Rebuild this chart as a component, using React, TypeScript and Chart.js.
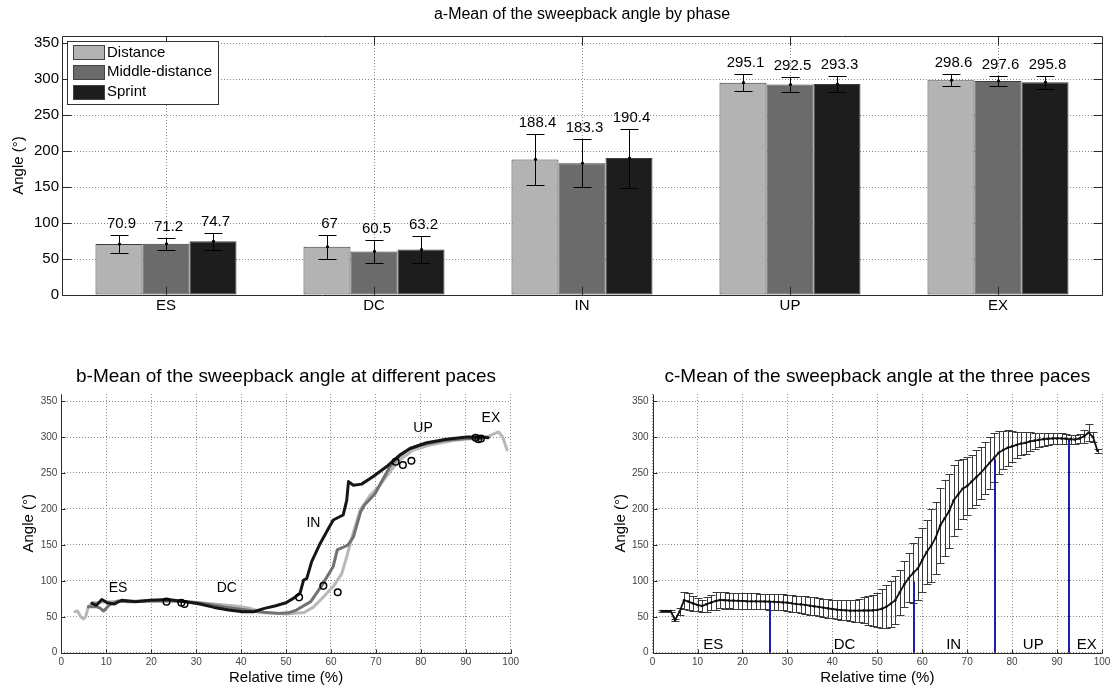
import React, { useEffect, useRef } from "react";
import { Chart, registerables } from "chart.js";

Chart.register(...registerables);

const FONT = "'Liberation Sans', Arial, Helvetica, sans-serif";
Chart.defaults.font.family = FONT;

// ---------------- Panel a: mean angle by phase ----------------
const phases = ["ES", "DC", "IN", "UP", "EX"];
const paces = ["Distance", "Middle-distance", "Sprint"];
const distanceMean = [70.9, 67, 188.4, 295.1, 298.6];
const middleMean = [71.2, 60.5, 183.3, 292.5, 297.6];
const sprintMean = [74.7, 63.2, 190.4, 293.3, 295.8];
const distanceSD = [12, 17, 36, 11.7, 8];
const middleSD = [8.5, 15.5, 33, 11, 7];
const sprintSD = [11.5, 18.5, 41, 11.5, 9];
const paceColors = ["#b3b3b3", "#6b6b6b", "#1d1d1d"];

// ---------------- Panel b: curves at different paces ----------------
const distanceTime = [3.0, 3.6, 4.3, 4.9, 5.4, 6.0, 7.0, 8.5, 10, 12, 15, 20, 25, 30, 34, 38.8, 42, 45.2, 48, 50, 54, 56, 57.6, 60.5, 62.4, 63.5, 64.7, 66.5, 68.7, 70.9, 73.1, 75.3, 78.3, 82, 87.2, 91.7, 95, 96.5, 97.3, 98.2, 99.2];
const distanceAngle = [57, 58, 50, 47, 50, 64, 70, 70, 71, 71, 72, 72, 72, 70, 67.7, 65, 61.7, 55.6, 55, 54, 56, 63, 73, 92, 110, 133.5, 161, 198.5, 219, 233, 251.7, 268, 282, 289, 295, 298, 301, 305, 307, 300, 282];
const middleTime = [6.0, 7.8, 8.6, 9.4, 10.6, 12.6, 15, 20, 25, 30, 34, 37, 40.4, 43.6, 48.3, 50.5, 52.3, 55.5, 58, 60.5, 61.4, 62.5, 63.8, 65, 66.6, 67.4, 69.8, 71, 73.1, 75.3, 77.6, 80, 85, 90, 93.5];
const middleAngle = [64, 64, 62, 58, 66, 72, 71, 72, 72, 70, 66, 63, 60, 57, 54.7, 55.5, 59.3, 71, 94, 120, 143, 146, 150, 161, 196, 205, 221, 235, 258.7, 273.6, 284, 289, 295, 298, 298];
const sprintTime = [6.8, 7.8, 9, 10.2, 11.8, 13.4, 16.5, 19.7, 23.7, 27.7, 30.8, 34, 37.2, 40.4, 42.8, 45.2, 47.5, 50, 51.6, 53.1, 53.9, 54.6, 55.7, 57.6, 59, 60.5, 62.7, 63.5, 63.9, 65, 66.8, 69.4, 72.4, 75.3, 77.6, 81.3, 85.7, 90.2, 93, 95];
const sprintAngle = [68.6, 66, 74, 69.5, 67.7, 73, 71, 73, 74, 71, 67.7, 63, 59.3, 57, 57, 61.7, 65, 69.5, 75.6, 82.6, 101, 103, 126.6, 152, 168, 184.6, 191.5, 212, 238, 233, 234.5, 245, 259, 275, 284, 292, 297, 300, 300, 299];
const phaseChangeTime = [23.4, 26.7, 27.4, 52.9, 58.3, 61.5, 74.4, 76.0, 77.9, 92.2, 92.8, 93.4];
const phaseChangeAngle = [71, 69.5, 67.7, 77, 93, 84, 265.6, 261, 267, 299, 297, 298];
const labelTimeB = [12.6, 36.8, 56.1, 80.5, 95.6];
const labelAngleB = [89.5, 89.5, 180, 313, 326];

// ---------------- Panel c: mean of the three paces ----------------
const meanTime = [2, 3, 4, 5, 6, 7, 8, 9, 10, 11, 12, 13, 14, 15, 16, 17, 18, 19, 20, 21, 22, 23, 24, 25, 26, 27, 28, 29, 30, 31, 32, 33, 34, 35, 36, 37, 38, 39, 40, 41, 42, 43, 44, 45, 46, 47, 48, 49, 50, 51, 52, 53, 54, 55, 56, 57, 58, 59, 60, 61, 62, 63, 64, 65, 66, 67, 68, 69, 70, 71, 72, 73, 74, 75, 76, 77, 78, 79, 80, 81, 82, 83, 84, 85, 86, 87, 88, 89, 90, 91, 92, 93, 94, 95, 96, 97, 98, 99];
const meanAngle = [58, 58, 58, 45.5, 57, 73, 71, 68.6, 66.4, 65, 67.5, 69.6, 71.9, 73.3, 73, 72.6, 72.4, 72.2, 72, 71.6, 71.5, 71.4, 71.3, 71.2, 71, 70.8, 70.4, 70, 69.6, 68.7, 67.7, 67.2, 66.4, 65.4, 64.5, 63.6, 62.6, 61.7, 60.8, 59.8, 59.4, 58.9, 58.4, 58.4, 58.6, 58.8, 58.7, 58.9, 59.5, 61, 64, 68, 73, 84, 95, 104, 111, 117, 129, 140, 149, 160, 177, 187, 197, 212, 220, 228, 232, 238, 244, 250, 257, 264, 271, 278, 282, 285, 287, 289, 291, 292, 294, 295, 296, 297, 297.5, 298, 298, 298, 297.5, 297, 296.5, 298, 301, 306, 300, 281];
const meanSD = [2, 2, 2, 2, 5, 12, 11.5, 10.5, 9, 9, 10.5, 10.5, 12, 11.5, 12, 11, 11, 11, 11, 11, 11, 11, 11, 11, 11, 11, 11, 11, 11, 11.5, 11.5, 12, 12, 12.5, 12.5, 12.5, 12.5, 13, 13, 13, 13.5, 14, 14.5, 15.5, 16.5, 18, 20, 22, 24, 27, 30, 32, 33, 31, 32, 34, 42, 44, 44, 45, 51, 50, 52, 53, 52, 49, 48, 42, 40, 37, 38, 36.5, 36.5, 36.5, 34, 30, 27, 25, 21.5, 18.5, 16.5, 15.5, 13.5, 11, 10, 9, 8.5, 8, 7.5, 7, 6.5, 6.5, 6.5, 6.5, 9, 12, 7, 3];
const boundaryTime = [26.2, 58.2, 76.3, 92.7];
const boundaryAngle = [71, 99, 269, 297];
const labelTimeC = [13.5, 42.7, 67, 84.7, 96.6];
const labelAngleC = [11, 11, 11, 11, 11];

const angleTicksStep = 50;
const timeTicksStep = 10;

const cr = (v: number) => Math.round(v) + 0.5;

function makeFrame(cfg: { box: boolean; tickLen: number; title: string; titleY: number; titleSize: number }) {
  return {
    id: "matlabFrame",
    afterDraw(chart: any) {
      const { ctx, chartArea: a, scales } = chart;
      const xs = scales.x;
      const ys = scales.y;
      const L = cr(a.left), R = cr(a.right), T = cr(a.top), B = cr(a.bottom);
      const tl = cfg.tickLen;
      ctx.save();
      ctx.strokeStyle = "#2a2a2a";
      ctx.lineWidth = 1;
      ctx.beginPath();
      xs.ticks.forEach((_: any, i: number) => {
        const p = cr(xs.getPixelForTick(i));
        ctx.moveTo(p, B);
        ctx.lineTo(p, B - tl);
        if (cfg.box) {
          ctx.moveTo(p, T);
          ctx.lineTo(p, T + tl);
        }
      });
      ys.ticks.forEach((_: any, i: number) => {
        const p = cr(ys.getPixelForTick(i));
        ctx.moveTo(L, p);
        ctx.lineTo(L + tl, p);
        if (cfg.box) {
          ctx.moveTo(R, p);
          ctx.lineTo(R - tl, p);
        }
      });
      ctx.stroke();
      ctx.beginPath();
      if (cfg.box) {
        ctx.rect(L, T, R - L, B - T);
      } else {
        ctx.moveTo(L, T);
        ctx.lineTo(L, B);
        ctx.lineTo(R, B);
      }
      ctx.stroke();
      ctx.fillStyle = "#000";
      ctx.font = `${cfg.titleSize}px ${FONT}`;
      ctx.textAlign = "center";
      ctx.textBaseline = "middle";
      ctx.fillText(cfg.title, (a.left + a.right) / 2, cfg.titleY);
      ctx.restore();
    },
  };
}

const barErrorPlugin = {
  id: "barErrors",
  afterDatasetsDraw(chart: any) {
    const { ctx } = chart;
    const ys = chart.scales.y;
    ctx.save();
    chart.data.datasets.forEach((ds: any, i: number) => {
      const meta = chart.getDatasetMeta(i);
      meta.data.forEach((el: any, j: number) => {
        const v = ds.data[j];
        const e = ds.errors[j];
        const x = cr(el.x);
        const yt = cr(ys.getPixelForValue(v + e));
        const yb = cr(ys.getPixelForValue(v - e));
        const ym = ys.getPixelForValue(v);
        ctx.strokeStyle = "#000";
        ctx.lineWidth = 1;
        ctx.beginPath();
        ctx.moveTo(x, yt);
        ctx.lineTo(x, yb);
        ctx.moveTo(x - 9, yt);
        ctx.lineTo(x + 9, yt);
        ctx.moveTo(x - 9, yb);
        ctx.lineTo(x + 9, yb);
        ctx.stroke();
        ctx.fillStyle = "#000";
        ctx.beginPath();
        ctx.arc(x, ym, 1.6, 0, Math.PI * 2);
        ctx.fill();
        ctx.font = `15px ${FONT}`;
        ctx.textAlign = "center";
        ctx.textBaseline = "alphabetic";
        ctx.fillText(String(v), x + 2, yt - 7.5);
      });
    });
    ctx.restore();
  },
};

const barLegendPlugin = {
  id: "barLegend",
  afterDraw(chart: any) {
    const { ctx, chartArea: a } = chart;
    const x0 = Math.round(a.left) + 5;
    const y0 = Math.round(a.top) + 5;
    ctx.save();
    ctx.fillStyle = "#fff";
    ctx.strokeStyle = "#333";
    ctx.lineWidth = 1;
    ctx.fillRect(x0, y0, 151, 63);
    ctx.strokeRect(x0 + 0.5, y0 + 0.5, 151, 63);
    chart.data.datasets.forEach((ds: any, i: number) => {
      const cy = y0 + 11 + i * 19.8;
      ctx.fillStyle = ds.backgroundColor;
      ctx.fillRect(x0 + 6, Math.round(cy - 7), 31, 14);
      ctx.strokeStyle = "#444";
      ctx.strokeRect(x0 + 6.5, Math.round(cy - 7) + 0.5, 31, 14);
      ctx.fillStyle = "#000";
      ctx.font = `15px ${FONT}`;
      ctx.textAlign = "left";
      ctx.textBaseline = "middle";
      ctx.fillText(ds.label, x0 + 40, cy + 0.5);
    });
    ctx.restore();
  },
};

function makeTextPlugin(texts: string[], xs: number[], ys: number[], size: number) {
  return {
    id: "phaseTexts",
    afterDatasetsDraw(chart: any) {
      const { ctx, scales } = chart;
      ctx.save();
      ctx.fillStyle = "#000";
      ctx.font = `${size}px ${FONT}`;
      ctx.textAlign = "center";
      ctx.textBaseline = "middle";
      texts.forEach((t, i) => {
        ctx.fillText(t, scales.x.getPixelForValue(xs[i]), scales.y.getPixelForValue(ys[i]));
      });
      ctx.restore();
    },
  };
}

const meanErrorPlugin = {
  id: "meanErrors",
  beforeDatasetsDraw(chart: any) {
    const { ctx, scales } = chart;
    ctx.save();
    ctx.lineWidth = 1;
    ctx.strokeStyle = "#3a3a3a";
    ctx.beginPath();
    meanTime.forEach((t, i) => {
      const x = cr(scales.x.getPixelForValue(t));
      const yt = cr(scales.y.getPixelForValue(meanAngle[i] + meanSD[i]));
      const yb = cr(scales.y.getPixelForValue(meanAngle[i] - meanSD[i]));
      ctx.moveTo(x, yt);
      ctx.lineTo(x, yb);
      ctx.moveTo(x - 4, yt);
      ctx.lineTo(x + 4, yt);
      ctx.moveTo(x - 4, yb);
      ctx.lineTo(x + 4, yb);
    });
    ctx.stroke();
    ctx.strokeStyle = "#1f1fa3";
    ctx.lineWidth = 2;
    ctx.beginPath();
    boundaryTime.forEach((t, i) => {
      const x = Math.round(scales.x.getPixelForValue(t));
      ctx.moveTo(x, scales.y.getPixelForValue(0));
      ctx.lineTo(x, scales.y.getPixelForValue(boundaryAngle[i]));
    });
    ctx.stroke();
    ctx.restore();
  },
};

const gridStyle = { color: "#8a8a8a", lineWidth: 1, drawTicks: false };
const borderStyle = { display: false, dash: [1, 2] };

function fixedY(width: number) {
  return (s: any) => {
    s.width = width;
    s.paddingTop = 0;
    s.paddingBottom = 0;
    s.paddingLeft = 0;
    s.paddingRight = 0;
  };
}
function fixedX(height: number) {
  return (s: any) => {
    s.height = height;
    s.paddingTop = 0;
    s.paddingBottom = 0;
    s.paddingLeft = 0;
    s.paddingRight = 0;
  };
}

function lineScales(yWidth: number) {
  return {
    x: {
      type: "linear",
      min: 0,
      max: 100,
      ticks: { stepSize: timeTicksStep, includeBounds: false, padding: 4, color: "#444", font: { size: 10 }, maxRotation: 0, autoSkip: false },
      grid: gridStyle,
      border: borderStyle,
      title: { display: true, text: "Relative time (%)", color: "#000", font: { size: 15 }, padding: { top: 0, bottom: 3 } },
      afterFit: fixedX(37.3),
    },
    y: {
      type: "linear",
      min: 0,
      max: 360,
      ticks: { stepSize: angleTicksStep, includeBounds: false, padding: 4, color: "#444", font: { size: 10 } },
      grid: gridStyle,
      border: borderStyle,
      title: { display: true, text: "Angle (°)", color: "#000", font: { size: 15 }, padding: { top: 0, bottom: 0 } },
      afterFit: fixedY(yWidth),
    },
  };
}

const toPoints = (xs: number[], ys: number[]) => xs.map((x, i) => ({ x, y: ys[i] }));

export default function App() {
  const refA = useRef<HTMLCanvasElement>(null);
  const refB = useRef<HTMLCanvasElement>(null);
  const refC = useRef<HTMLCanvasElement>(null);

  useEffect(() => {
    const charts: Chart[] = [];

    charts.push(
      new Chart(refA.current as HTMLCanvasElement, {
        type: "bar",
        data: {
          labels: phases,
          datasets: [
            { label: paces[0], data: distanceMean, errors: distanceSD, backgroundColor: paceColors[0] } as any,
            { label: paces[1], data: middleMean, errors: middleSD, backgroundColor: paceColors[1] } as any,
            { label: paces[2], data: sprintMean, errors: sprintSD, backgroundColor: paceColors[2] } as any,
          ],
        },
        options: {
          animation: false,
          responsive: false,
          maintainAspectRatio: false,
          devicePixelRatio: 1,
          events: [],
          layout: { padding: { left: 10, right: 10, top: 36, bottom: 0 } },
          datasets: {
            bar: { categoryPercentage: 0.678, barPercentage: 1, borderColor: "#3c3c3c", borderWidth: 1, borderSkipped: false },
          },
          scales: {
            x: {
              ticks: { padding: 2, color: "#000", font: { size: 15 } },
              grid: { ...gridStyle, offset: false },
              border: borderStyle,
              afterFit: fixedX(30),
            },
            y: {
              min: 0,
              max: 360,
              ticks: { stepSize: angleTicksStep, includeBounds: false, padding: 3, color: "#000", font: { size: 15 } },
              grid: gridStyle,
              border: borderStyle,
              title: { display: true, text: "Angle (°)", color: "#000", font: { size: 15 }, padding: { top: 0, bottom: 0 } },
              afterFit: fixedY(52),
            },
          } as any,
          plugins: { legend: { display: false }, tooltip: { enabled: false } },
        },
        plugins: [
          makeFrame({ box: true, tickLen: 9, title: "a-Mean of the sweepback angle by phase", titleY: 15, titleSize: 16 }),
          barErrorPlugin,
          barLegendPlugin,
        ],
      } as any)
    );

    charts.push(
      new Chart(refB.current as HTMLCanvasElement, {
        type: "scatter",
        data: {
          datasets: [
            { label: "Phase changes", data: toPoints(phaseChangeTime, phaseChangeAngle), showLine: false, pointRadius: 3.3, pointBorderWidth: 1.5, pointBorderColor: "#000", pointBackgroundColor: "rgba(0,0,0,0)", order: 0 },
            { label: paces[2], data: toPoints(sprintTime, sprintAngle), showLine: true, borderColor: "#161616", borderWidth: 3, pointRadius: 0, order: 1 },
            { label: paces[1], data: toPoints(middleTime, middleAngle), showLine: true, borderColor: "#727272", borderWidth: 3, pointRadius: 0, order: 2 },
            { label: paces[0], data: toPoints(distanceTime, distanceAngle), showLine: true, borderColor: "#b8b8b8", borderWidth: 3, pointRadius: 0, order: 3 },
          ],
        },
        options: {
          animation: false,
          responsive: false,
          maintainAspectRatio: false,
          devicePixelRatio: 1,
          events: [],
          elements: { line: { tension: 0, borderJoinStyle: "round", borderCapStyle: "round" } },
          layout: { padding: { left: 20, right: 45.3, top: 68.9, bottom: 0 } },
          scales: lineScales(41.4) as any,
          plugins: { legend: { display: false }, tooltip: { enabled: false } },
        },
        plugins: [
          makeFrame({ box: false, tickLen: 4, title: "b-Mean of the sweepback angle at different paces", titleY: 51.7, titleSize: 19 }),
          makeTextPlugin(phases, labelTimeB, labelAngleB, 14),
        ],
      } as any)
    );

    charts.push(
      new Chart(refC.current as HTMLCanvasElement, {
        type: "scatter",
        data: {
          datasets: [
            { label: "Mean", data: toPoints(meanTime, meanAngle), showLine: true, borderColor: "#111", borderWidth: 1.8, pointRadius: 1.3, pointBorderWidth: 0, pointBackgroundColor: "#111" },
          ],
        },
        options: {
          animation: false,
          responsive: false,
          maintainAspectRatio: false,
          devicePixelRatio: 1,
          events: [],
          elements: { line: { tension: 0 } },
          layout: { padding: { left: 56, right: 10, top: 68.9, bottom: 0 } },
          scales: lineScales(40.6) as any,
          plugins: { legend: { display: false }, tooltip: { enabled: false } },
        },
        plugins: [
          meanErrorPlugin,
          makeFrame({ box: false, tickLen: 4, title: "c-Mean of the sweepback angle at the three paces", titleY: 51.7, titleSize: 19 }),
          makeTextPlugin(phases, labelTimeC, labelAngleC, 15),
        ],
      } as any)
    );

    return () => charts.forEach((c) => c.destroy());
  }, []);

  return (
    <div style={{ position: "absolute", left: 0, top: 0, width: 1112, height: 690, background: "#fff" }}>
      <canvas ref={refA} width={1112} height={325} style={{ position: "absolute", left: 0, top: 0, width: 1112, height: 325 }} />
      <canvas ref={refB} width={556} height={365} style={{ position: "absolute", left: 0, top: 325, width: 556, height: 365 }} />
      <canvas ref={refC} width={556} height={365} style={{ position: "absolute", left: 556, top: 325, width: 556, height: 365 }} />
    </div>
  );
}
